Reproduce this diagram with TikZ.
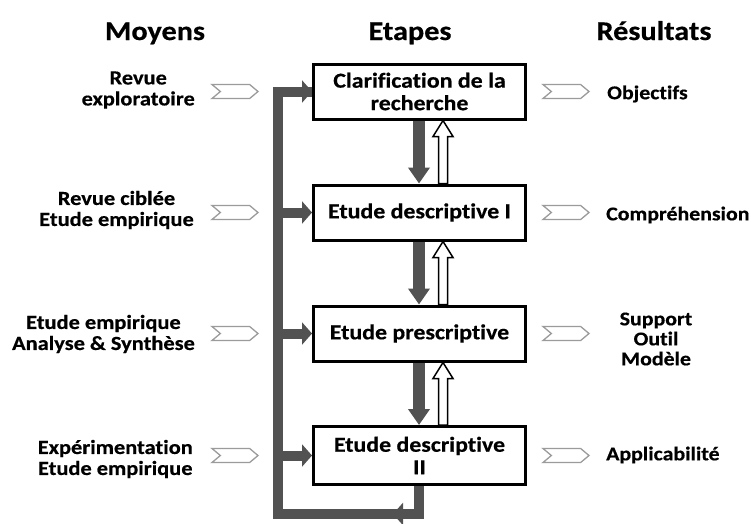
\documentclass[tikz,border=0pt]{standalone}
\usepackage{fontspec}
\setmainfont{Carlito}[FakeStretch=1.12, FakeBold=0.5, Ligatures=NoCommon]
\usetikzlibrary{arrows.meta,shapes.symbols,calc}
\definecolor{busgrey}{RGB}{82,82,82}
\definecolor{chevgrey}{RGB}{155,155,155}

\begin{document}
\begin{tikzpicture}[x=1pt, y=-1pt,
    etape/.style={draw, line width=3pt, fill=white, minimum width=212pt, minimum height=55pt,
        align=center, font=\fontsize{21.3}{22.5}\selectfont\bfseries},
    titre/.style={anchor=base, font=\fontsize{27}{30}\selectfont\bfseries},
    moyen/.style={anchor=east, align=center, inner sep=0pt, font=\fontsize{20}{21}\selectfont\bfseries},
    resultat/.style={anchor=west, align=center, inner sep=0pt, font=\fontsize{19.5}{20}\selectfont\bfseries},
    chevron/.style={signal, signal to=east, signal from=west, signal pointer angle=80,
        draw=chevgrey, line width=1.3pt, minimum width=46pt, minimum height=14pt, inner sep=0pt},
    bus/.style={draw=busgrey, line width=10pt, line join=miter},
    busarrow/.style={bus, -{Triangle[width=22pt,length=10pt]}},
    descente/.style={draw=busgrey, line width=12pt, -{Triangle[width=21pt,length=16pt]}},
    creux/.style={draw=black, fill=white, line width=1.5pt, line join=miter}]
    \newcommand{\remonte}[2]{
        \draw[creux] ($(#1.north -| upcol)+(-4.5,0)$) -- ($(#2.south -| upcol)+(-4.5,16)$)
            -- ++(-5.5,0) -- (#2.south -| upcol) -- ++(10,16) -- ++(-5.5,0)
            -- ($(#1.north -| upcol)+(4.5,0)$) -- cycle;
    }
    \useasboundingbox (0,0) rectangle (751,523);

    % colonnes
    \coordinate (buscol) at (278,0);
    \coordinate (dncol) at (419,0);
    \coordinate (upcol) at (443,0);
    \coordinate (chl) at (235,0);
    \coordinate (chr) at (566,0);
    \coordinate (loopbot) at (0,514);
    \coordinate (looptip) at (393,514);

    % titres
    \node[titre] (moyens) at (155,40) {Moyens};
    \node[titre] (etapes) at (410,40) {Etapes};
    \node[titre] (resultats) at (654,40) {Résultats};

    % etapes
    \node[etape] (clarif) at (419.5,91.5) {Clarification de la\\recherche};
    \node[etape] (desc1) at (419.5,212.5) {Etude descriptive I};
    \node[etape] (presc) at (419.5,333.5) {Etude prescriptive};
    \node[etape, minimum height=58pt] (desc2) at (419.5,455.5) {Etude descriptive\\II};

    % boucle de retour
    \draw[bus] (desc2.south -| dncol) -- (loopbot -| dncol) -- (loopbot -| buscol) -- (clarif.west -| buscol) -- (clarif.west);
    \draw[busarrow] (loopbot -| dncol) -- (looptip);
    \draw[busarrow] (clarif.west -| buscol) -- (clarif.west);
    \foreach \n in {desc1, presc, desc2} {
        \draw[busarrow] (\n.west -| buscol) -- (\n.west);
    }

    % fleches entre etapes
    \draw[descente] (clarif.south -| dncol) -- (desc1.north -| dncol);
    \draw[descente] (desc1.south -| dncol) -- (presc.north -| dncol);
    \draw[descente] (presc.south -| dncol) -- (desc2.north -| dncol);
    \remonte{desc1}{clarif}
    \remonte{presc}{desc1}
    \remonte{desc2}{presc}

    % chevrons
    \foreach \n in {clarif, desc1, presc, desc2} {
        \node[chevron] (in-\n) at (\n.west -| chl) {};
        \node[chevron] (out-\n) at (\n.east -| chr) {};
    }

    % moyens
    \node[moyen] (m1) at (195,90) {Revue\\exploratoire};
    \node[moyen] (m2) at (194,210) {Revue ciblée\\Etude empirique};
    \node[moyen] (m3) at (195,334) {Etude empirique\\Analyse \& Synthèse};
    \node[moyen] (m4) at (193,459) {Expérimentation\\Etude empirique};

    % resultats
    \node[resultat] (r1) at (607,94) {Objectifs};
    \node[resultat] (r2) at (606,215) {Compréhension};
    \node[resultat, anchor=center] (r3) at (656,339) {Support\\Outil\\Modèle};
    \node[resultat] (r4) at (606,455) {Applicabilité};
\end{tikzpicture}
\end{document}
